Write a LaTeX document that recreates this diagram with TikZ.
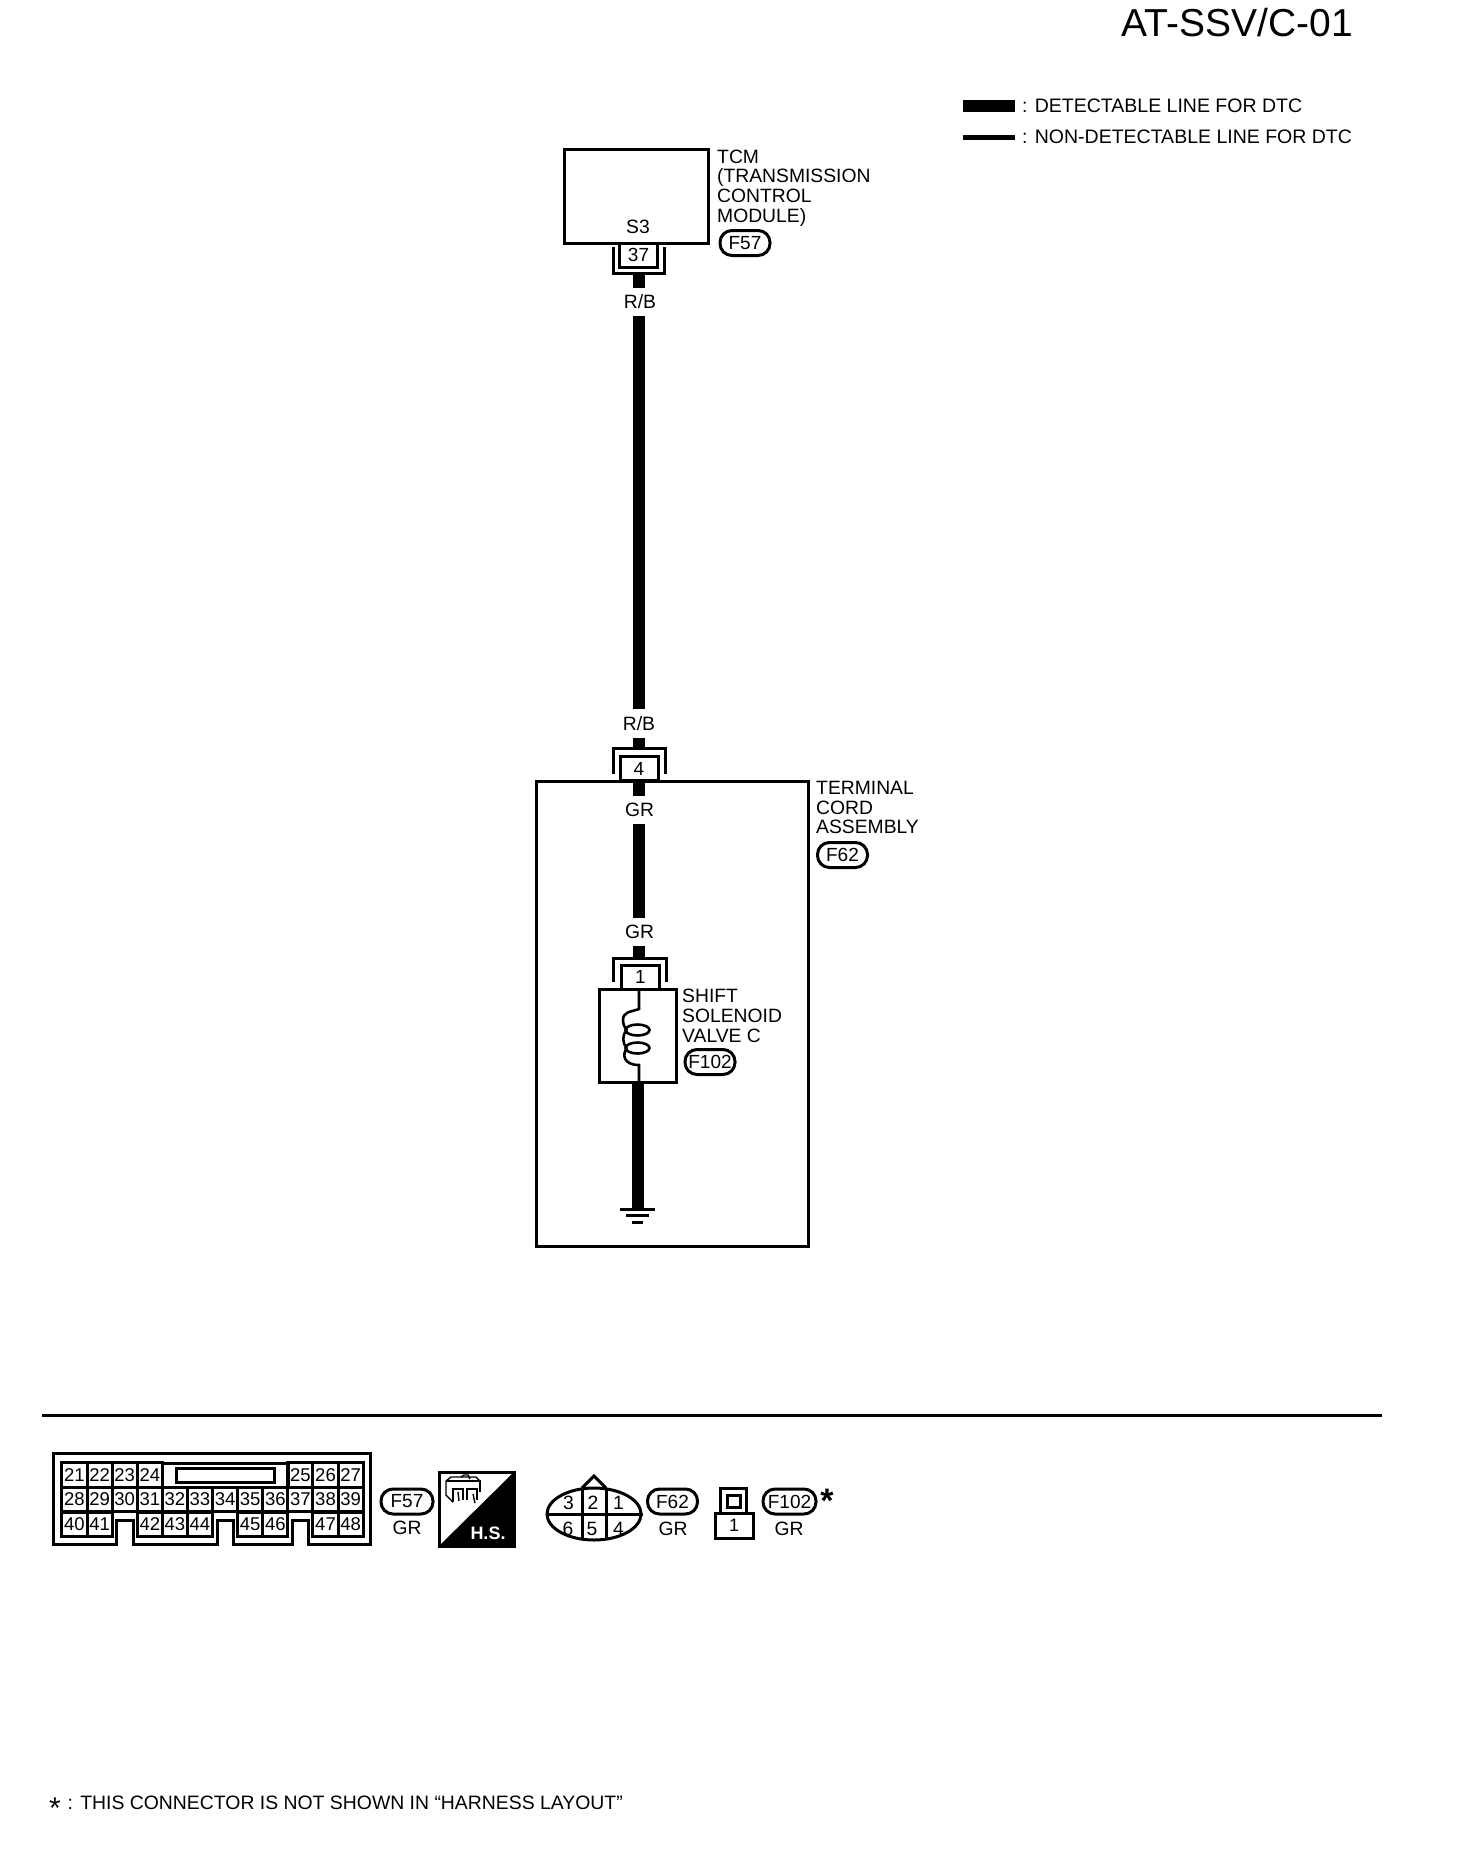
\documentclass[tikz,border=0pt]{standalone}
\usepackage{fontspec}
\setmainfont{Liberation Sans}
\usetikzlibrary{shapes, positioning, calc}
\tikzset{
  wire/.style={line width=12pt},
  frame/.style={line width=3pt},
  thin wire/.style={line width=2.6pt},
  sketch/.style={line width=1.4pt},
  lbl/.style={inner sep=0pt, font=\fontsize{19.3}{19.7}\selectfont},
  txt/.style={lbl, anchor=north west, align=left},
  gap/.style={lbl, minimum height=28pt},
  pin/.style={draw, line width=3pt, inner sep=0pt, minimum width=38pt, minimum height=24pt, font=\fontsize{19}{20}\selectfont},
  cell/.style={draw, line width=3pt, inner sep=0pt, outer sep=0pt, minimum width=25.1pt, minimum height=24.5pt, font=\fontsize{18.5}{20}\selectfont},
  pill/.style={draw, line width=3pt, rounded corners=12pt, inner sep=0pt, minimum width=50pt, minimum height=25pt, font=\fontsize{19}{20}\selectfont}
}

\begin{document}
\begin{tikzpicture}[x=1pt, y=-1pt]
  \useasboundingbox (0,0) rectangle (1456,1868);

  % Title and legend
  \node[inner sep=0pt, anchor=east, font=\fontsize{39}{40}\selectfont] (title) at (1353,23) {AT-SSV/C-01};
  \coordinate (legAa) at (963,106);
  \coordinate (legAb) at (1015,106);
  \coordinate (legBa) at (963,137.5);
  \coordinate (legBb) at (1015,137.5);
  \draw[wire] (legAa) -- (legAb);
  \draw[line width=5pt] (legBa) -- (legBb);
  \node[lbl, anchor=west, font=\fontsize{19.5}{20}\selectfont] (legA) at (1022,106) {: DETECTABLE LINE FOR DTC};
  \node[lbl, anchor=west, font=\fontsize{19.5}{20}\selectfont] (legB) at (1022,137) {: NON-DETECTABLE LINE FOR DTC};

  % TCM
  \node[draw, frame, inner sep=0pt, minimum width=144pt, minimum height=94pt] (tcm) at (636,196) {};
  \node[lbl] (sthree) at (638,227) {S3};
  \node[pin] (pinA) at (638.5,255) {37};
  \draw[frame] (613,247) -- (613,273) -- (664,273) -- (664,247);
  \coordinate (brA) at (639,273);
  \node[txt] (tcmtxt) at (717,149.5) {TCM\\(TRANSMISSION\\CONTROL\\MODULE)};
  \node[pill] (fA) at (745,243) {F57};

  % Harness down to terminal cord assembly
  \node[gap] (rbA) at (640,302) {R/B};
  \node[gap] (rbB) at (639,723.5) {R/B};
  \draw[wire] (brA) -- (rbA.north -| brA);
  \draw[wire] (rbA.south -| brA) -- (rbB.north -| brA);
  \node[draw, frame, inner sep=0pt, minimum width=272pt, minimum height=465pt] (term) at (672,1013.5) {};
  \node[pin, fill=white] (pinB) at (639,768.5) {4};
  \coordinate (brB) at (639,748);
  \draw[wire] (rbB.south -| brB) -- (brB);
  \draw[frame] (613,774) -- (613,748) -- (665,748) -- (665,774);
  \node[txt] (termtxt) at (816,781) {TERMINAL\\CORD\\ASSEMBLY};
  \node[pill] (fB) at (842.5,855) {F62};

  % Inside the assembly
  \node[gap] (grA) at (639.5,810) {GR};
  \node[gap] (grB) at (639.5,932) {GR};
  \coordinate (brC) at (639,958);
  \draw[wire] (pinB.south -| brC) -- (grA.north -| brC);
  \draw[wire] (grA.south -| brC) -- (grB.north -| brC);
  \draw[wire] (grB.south -| brC) -- (brC);
  \draw[frame] (613,982) -- (613,958) -- (666,958) -- (666,982);
  \node[pin] (pinC) at (640.5,977) {1};

  % Solenoid
  \node[draw, frame, inner sep=0pt, minimum width=77pt, minimum height=93pt] (valve) at (637.5,1035.5) {};
  \draw[thin wire] (pinC.south -| 639,0) -- (639,1009)
    .. controls (630,1012) and (623,1012) .. (623,1020)
    .. controls (623,1025) and (625,1028) .. (627,1030);
  \draw[thin wire] (627,1030) .. controls (622,1034) and (622,1044) .. (627,1048);
  \draw[thin wire] (627,1048) .. controls (622,1054) and (623,1065) .. (639,1065) -- (valve.south -| 639,0);
  \draw[thin wire] (637.5,1030) ellipse (12 and 5.5);
  \draw[thin wire] (637.5,1048) ellipse (12 and 5.5);
  \node[txt] (valvetxt) at (682,989) {SHIFT\\SOLENOID\\VALVE C};
  \node[pill] (fC) at (710,1062) {F102};

  % Ground
  \coordinate (gnd) at (638,1209);
  \draw[wire] (valve.south -| gnd) -- (gnd);
  \draw[frame] (620,1209) -- (655,1209);
  \draw[frame] (626,1215.5) -- (649,1215.5);
  \draw[frame] (632,1222) -- (643,1222);

  % Rule
  \coordinate (ruleL) at (42,1415.5);
  \coordinate (ruleR) at (1382,1415.5);
  \draw[frame] (ruleL) -- (ruleR);

  % Connector F57
  \draw[frame] (53,1453) -- (370,1453) -- (370,1544) -- (308,1544) -- (308,1520) -- (292,1520) -- (292,1544)
    -- (233,1544) -- (233,1520) -- (217,1520) -- (217,1544) -- (133,1544) -- (133,1520) -- (116,1520)
    -- (116,1544) -- (53,1544) -- cycle;
  \foreach \n/\c in {21/0,22/1,23/2,24/3,25/9,26/10,27/11}
    \node[cell] (pin\n) at (74.5+25.1*\c,1475) {\n};
  \foreach \n [count=\c from 0] in {28,29,30,31,32,33,34,35,36,37,38,39}
    \node[cell] (pin\n) at (74.5+25.1*\c,1499.5) {\n};
  \foreach \n/\c in {40/0,41/1,42/3,43/4,44/5,45/7,46/8,47/10,48/11}
    \node[cell] (pin\n) at (74.5+25.1*\c,1524.5) {\n};
  \draw[frame] (162,1463) rectangle (288,1487);
  \draw[frame] (176,1468) rectangle (274,1482);
  \node[pill, minimum width=52pt] (fAb) at (407,1501.5) {F57};
  \node[lbl] (grC) at (407,1528) {GR};

  % H.S. mark
  \draw[frame] (439,1472) rectangle (514,1546);
  \fill (514,1472) -- (514,1546) -- (439,1546) -- cycle;
  \node[lbl, text=white, font=\fontsize{18}{20}\selectfont\bfseries] (hs) at (488,1533) {H.S.};
  \draw[sketch] (446,1481) -- (480,1481) -- (480,1492);
  \draw[sketch] (446,1481) -- (446,1495) -- (453,1502);
  \draw[sketch] (446,1481) -- (451,1477) -- (476,1477) -- (480,1481);
  \draw[sketch] (461,1477) -- (464,1475) -- (468,1475) -- (470,1479);
  \draw[sketch] (453,1502) -- (453,1489) -- (463,1489) -- (463,1500);
  \draw[sketch] (467,1500) -- (467,1489) -- (477,1489) -- (477,1500);
  \draw[sketch] (458,1492) -- (459,1501);
  \draw[sketch] (473,1494) -- (475,1503);

  % Connector F62
  \draw[frame] (582,1488) -- (594,1476) -- (606,1488);
  \node[draw, frame, ellipse, inner sep=0pt, minimum width=94pt, minimum height=52pt] (oval) at (594,1514) {};
  \draw[frame] (oval.west) -- (oval.east);
  \draw[frame] (582,1488.5) -- (582,1539.5);
  \draw[frame] (606,1488.5) -- (606,1539.5);
  \foreach \n/\px/\py in {3/568.5/1503,2/593/1503,1/618.5/1503,6/568/1529,5/592/1529,4/618.5/1529}
    \node[lbl] (ovp\n) at (\px,\py) {\n};
  \node[pill] (fBb) at (672.5,1501.5) {F62};
  \node[lbl] (grD) at (673,1529) {GR};

  % Connector F102
  \node[draw, frame, inner sep=0pt, minimum width=26pt, minimum height=25pt] (plugtop) at (733,1500.5) {};
  \node[draw, frame, inner sep=0pt, minimum width=13pt, minimum height=12pt] (plughole) at (733.5,1501) {};
  \node[draw, frame, inner sep=0pt, minimum width=38pt, minimum height=25pt, font=\fontsize{18}{20}\selectfont] (plugbot) at (734,1525.5) {1};
  \node[pill, minimum width=53pt] (fCb) at (789.5,1501.5) {F102};
  \node[lbl] (grE) at (789,1529) {GR};
  \node[inner sep=0pt, font=\fontsize{34}{36}\selectfont\bfseries] (star) at (827,1501) {*};

  % Footnote
  \node[inner sep=0pt, font=\fontsize{30}{32}\selectfont] (fnstar) at (55,1808) {*};
  \node[lbl, anchor=west, font=\fontsize{19.4}{20}\selectfont] (fntxt) at (67.5,1803) {: THIS CONNECTOR IS NOT SHOWN IN “HARNESS LAYOUT”};
\end{tikzpicture}
\end{document}
